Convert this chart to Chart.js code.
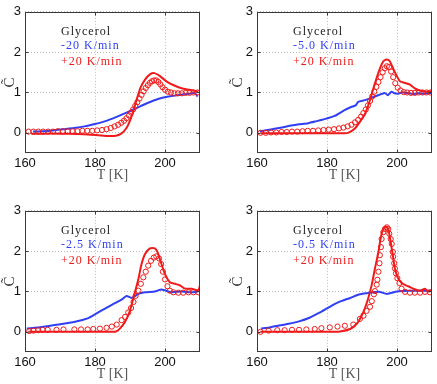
<!DOCTYPE html>
<html>
<head>
<meta charset="utf-8">
<script src="https://cdn.jsdelivr.net/npm/chart.js@4.4.0/dist/chart.umd.min.js"></script>
<style>
  html, body { margin:0; padding:0; background:#fff; width:437px; height:384px; overflow:hidden; position:relative; }
  canvas { position:absolute; }
</style>
</head>
<body>
<canvas id="p1" width="210" height="192" style="left:0;top:0"></canvas>
<canvas id="p2" width="209" height="192" style="left:228px;top:0"></canvas>
<canvas id="p3" width="210" height="192" style="left:0;top:199px"></canvas>
<canvas id="p4" width="209" height="192" style="left:228px;top:199px"></canvas>
<script>
// axis ticks
const xTicks = [160, 180, 200];
const yTicks = [0, 1, 2, 3];

// legend texts
const sampleName = 'Glycerol';
const coolLabels = ['-20 K/min', '-5.0 K/min', '-2.5 K/min', '-0.5 K/min'];
const heatLabel = '+20 K/min';

// panel 1 : cooling -20 K/min
const blue1T = [162.3,165,168,171,174,177,180,183,186,189,192,195,198,201,204,207,208.5,209.3];
const blue1C = [0.03,0.04,0.06,0.09,0.12,0.16,0.22,0.29,0.39,0.50,0.62,0.74,0.84,0.90,0.94,0.97,0.99,0.90];
const red1T = [161.8,165,170,175,178,181,184,186,187.5,189,190,191,192,193,194.3,195.7,197,198.5,200.5,202.5,205,208,209.5];
const red1C = [-0.02,-0.02,-0.02,-0.03,-0.04,-0.06,-0.08,-0.07,-0.02,0.12,0.3,0.55,0.85,1.12,1.32,1.45,1.48,1.41,1.27,1.18,1.10,1.05,1.02];
const model1T = [161,162.4,163.8,165.2,166.6,168,169.4,170.8,172.2,173.6,175,176.4,177.8,179.2,180.6,182,183.3,184.5,185.6,186.6,187.5,188.3,189,189.7,190.3,190.9,191.5,192.1,192.7,193.3,193.9,194.5,195.1,195.7,196.3,196.9,197.5,198.1,198.7,199.3,200,200.8,201.7,202.7,203.7,204.8,205.9,207,208.1,209.2];
const model1C = [0.03,0.03,0.03,0.03,0.03,0.03,0.04,0.04,0.04,0.04,0.04,0.05,0.05,0.05,0.06,0.07,0.09,0.12,0.16,0.2,0.25,0.3,0.36,0.43,0.5,0.58,0.67,0.76,0.85,0.94,1.03,1.11,1.18,1.24,1.28,1.3,1.3,1.26,1.2,1.13,1.07,1.02,1.0,0.98,0.98,0.98,0.99,0.99,1.0,1.0];

// panel 2 : cooling -5.0 K/min
const blue2T = [160.8,163,165,167.5,169.8,172,174.6,177,179.3,182.2,185,186.9,188.2,188.9,190.8,192.7,194.6,196.5,197.4,198.4,199.3,200.3,201.5,203.1,204.5,206,207.5,209.8];
const blue2C = [0.04,0.07,0.1,0.14,0.18,0.21,0.24,0.29,0.34,0.42,0.56,0.64,0.68,0.77,0.81,0.87,0.93,0.99,0.93,1.02,0.98,0.97,1.0,0.99,0.96,0.98,0.97,0.99];
const red2T = [161,165,170,175,180,184,186,187.9,189.3,190.8,192.2,193.6,194.8,196,197,197.9,199.3,200.8,202.2,203.6,205.1,206.5,208.4,209.8];
const red2C = [-0.01,-0.01,-0.01,-0.01,-0.01,-0.01,0.0,0.1,0.26,0.46,0.79,1.2,1.52,1.76,1.82,1.78,1.52,1.28,1.24,1.2,1.1,1.05,1.02,1.03];
const model2T = [161,162.5,164,165.5,167,168.5,170,171.5,173,174.5,176,177.5,179,180.5,182,183.4,184.7,185.9,187,188,188.9,189.7,190.4,191.1,191.7,192.3,192.9,193.5,194.1,194.7,195.3,195.9,196.5,197.1,197.7,198.3,198.9,199.5,200.2,201,201.9,202.9,204,205.1,206.2,207.3,208.4,209.5];
const model2C = [0.0,0.0,0.01,0.01,0.02,0.02,0.03,0.03,0.04,0.05,0.05,0.06,0.07,0.08,0.09,0.11,0.13,0.16,0.2,0.26,0.32,0.4,0.49,0.58,0.68,0.79,0.9,1.02,1.14,1.26,1.38,1.5,1.6,1.65,1.63,1.52,1.38,1.23,1.12,1.05,1.01,1.0,0.99,0.99,1.0,1.0,1.0,1.0];

// panel 3 : cooling -2.5 K/min
const blue3T = [160.5,164.8,169.5,174.3,178.1,180,181.9,184.8,187.6,189,190.5,192.4,194.3,197.1,199,201.9,204.8,207.6,209.5];
const blue3C = [0.08,0.12,0.18,0.25,0.34,0.43,0.53,0.67,0.8,0.89,0.84,0.94,0.98,1.0,1.05,0.98,1.0,0.98,1.0];
const red3T = [161,165,170,175,180,184,186,187.1,188.6,190,191.4,192.4,193.3,194.3,195.7,197.1,197.9,199,200,201.4,202.9,204.3,205.7,207.6,209.5,210];
const red3C = [0,0,0,0,0,0,0.01,0.08,0.25,0.53,0.98,1.31,1.68,1.93,2.07,2.07,1.97,1.68,1.43,1.23,1.19,1.15,1.07,1.07,1.03,1.15];
const model3T = [161.2,162.4,163.8,165.0,166.5,169.0,171.0,174.1,176.0,177.9,179.5,181.4,183.3,184.8,186.2,187.6,188.6,189.5,190.3,191.0,191.6,192.4,193.1,193.8,194.5,195.2,196.0,196.8,197.5,198.3,198.9,199.4,200.0,200.7,201.4,202.4,203.8,205.2,206.7,208.1,209.5];
const model3C = [0.02,0.03,0.04,0.05,0.05,0.05,0.06,0.06,0.06,0.06,0.07,0.08,0.1,0.13,0.18,0.29,0.37,0.48,0.59,0.74,0.89,1.02,1.19,1.35,1.49,1.64,1.76,1.84,1.87,1.82,1.68,1.49,1.30,1.13,1.02,0.98,0.97,0.97,0.98,0.98,0.98];

// panel 4 : cooling -0.5 K/min
const blue4T = [161.2,163.5,166,169,172,175,178,180,182,184,186.6,189.4,192.3,195.1,197.1,200,203,206,209.8];
const blue4C = [0.08,0.11,0.15,0.2,0.26,0.35,0.48,0.58,0.68,0.76,0.84,0.93,0.97,0.99,0.94,1.0,1.02,1.02,1.02];
const red4T = [161,165,170,175,180,183.7,186.6,188.5,189.9,190.9,191.8,192.8,193.7,194.7,195.4,196.1,196.8,197.5,198.2,198.8,199.4,200.1,200.9,201.8,203.2,204.6,206.6,208,208.8,209.9];
const red4C = [0,0,0,0,0,0.01,0.07,0.2,0.4,0.6,0.84,1.17,1.57,1.98,2.35,2.56,2.61,2.55,2.22,1.9,1.57,1.37,1.25,1.18,1.13,1.07,1.02,1.07,1.0,1.02];
const model4T = [161.0,163.3,165.8,167.9,170.0,172.0,174.1,176.5,178.4,180.8,183.0,185.1,187.5,189.4,190.4,191.3,192.3,192.8,193.4,193.7,194.2,194.4,194.7,195.0,195.1,195.4,195.6,196.1,196.6,197.1,197.5,197.8,198.2,198.5,198.8,198.9,199.2,199.4,199.7,200.1,200.7,201.3,202.3,203.7,205.1,206.6,208.0,209.4];
const model4C = [0.0,0.03,0.04,0.04,0.05,0.05,0.06,0.07,0.09,0.11,0.13,0.15,0.18,0.32,0.40,0.52,0.62,0.76,0.93,1.01,1.17,1.29,1.49,1.70,1.90,2.10,2.30,2.47,2.55,2.59,2.55,2.43,2.30,2.18,1.98,1.86,1.70,1.57,1.45,1.33,1.21,1.07,0.99,0.97,0.97,0.97,0.99,0.98];

const BLUE = '#2f3ff5';
const RED = '#f01a1a';

function pts(ts, cs){
  return ts.map((t, i) => ({x: t, y: cs[i]}));
}

// matlab style box with inward ticks
const boxPlugin = {
  id: 'box',
  afterDatasetsDraw(chart){
    const {ctx, chartArea: a, scales} = chart;
    const l = Math.round(a.left) + 0.5, r = Math.round(a.right) - 0.5;
    const t = Math.round(a.top) + 0.5, b = Math.round(a.bottom) - 0.5;
    ctx.save();
    ctx.strokeStyle = '#3a3a3a';
    ctx.lineWidth = 1;
    ctx.strokeRect(l, t, r - l, b - t);
    ctx.beginPath();
    xTicks.forEach(v => {
      const px = Math.round(scales.x.getPixelForValue(v)) + 0.5;
      ctx.moveTo(px, b); ctx.lineTo(px, b - 3);
      ctx.moveTo(px, t); ctx.lineTo(px, t + 3);
    });
    yTicks.forEach(v => {
      const py = Math.round(scales.y.getPixelForValue(v)) + 0.5;
      ctx.moveTo(l, py); ctx.lineTo(l + 3, py);
      ctx.moveTo(r, py); ctx.lineTo(r - 3, py);
    });
    ctx.stroke();
    ctx.restore();
  }
};

// text block inside each panel
const notePlugin = {
  id: 'note',
  afterDatasetsDraw(chart, args, opts){
    const {ctx, chartArea: a} = chart;
    ctx.save();
    ctx.font = '12px "Liberation Serif", serif';
    ctx.letterSpacing = '1px';
    ctx.textBaseline = 'middle';
    const x = a.left + 36;
    ctx.fillStyle = '#222';
    ctx.fillText(sampleName, x, a.top + 20);
    ctx.fillStyle = BLUE;
    ctx.fillText(opts.cool, x, a.top + 34);
    ctx.fillStyle = RED;
    ctx.fillText(heatLabel, x, a.top + 50);
    ctx.restore();
  }
};

function makePanel(id, blueT, blueC, redT, redC, modelT, modelC, cool, yWidth, rightPad){
  new Chart(document.getElementById(id), {
    type: 'line',
    data: {
      datasets: [
        { data: pts(modelT, modelC), showLine: false, pointStyle: 'circle', pointRadius: 2.6,
          pointBorderWidth: 1, pointBorderColor: RED, pointBackgroundColor: 'rgba(0,0,0,0)', order: 0 },
        { data: pts(redT, redC), borderColor: RED, borderWidth: 2, pointRadius: 0, tension: 0.2, order: 1 },
        { data: pts(blueT, blueC), borderColor: BLUE, borderWidth: 2, pointRadius: 0, tension: 0.2, order: 2 }
      ]
    },
    options: {
      responsive: false,
      animation: false,
      events: [],
      layout: { padding: { left: 0, top: 9, right: rightPad, bottom: 0 } },
      plugins: { legend: { display: false }, tooltip: { enabled: false }, note: { cool } },
      scales: {
        x: {
          type: 'linear', min: 160, max: 210,
          afterBuildTicks: s => { s.ticks = xTicks.map(v => ({value: v})); },
          afterFit: s => { s.height = 39; },
          grid: { color: '#bdbdbd', drawTicks: false },
          border: { display: false, dash: [1, 2] },
          ticks: { color: '#111', padding: 3, maxRotation: 0, font: { family: '"Liberation Sans", Arial', size: 13 } },
          title: { display: true, text: 'T [K]', color: '#555', padding: { top: 0, bottom: 8 },
                   font: { family: '"Liberation Serif", serif', size: 14 } }
        },
        y: {
          type: 'linear', min: -0.5, max: 3,
          afterBuildTicks: s => { s.ticks = yTicks.map(v => ({value: v})); },
          afterFit: s => { s.width = yWidth; },
          grid: { color: '#bdbdbd', drawTicks: false },
          border: { display: false, dash: [1, 2] },
          ticks: { color: '#111', padding: 4, font: { family: '"Liberation Sans", Arial', size: 13 } },
          title: { display: true, text: 'C\u0303', color: '#333', padding: { top: 1, bottom: 0 },
                   font: { family: '"Liberation Serif", serif', size: 15 } }
        }
      }
    },
    plugins: [boxPlugin, notePlugin]
  });
}

makePanel('p1', blue1T, blue1C, red1T, red1C, model1T, model1C, coolLabels[0], 25, 10);
makePanel('p2', blue2T, blue2C, red2T, red2C, model2T, model2C, coolLabels[1], 29, 5);
makePanel('p3', blue3T, blue3C, red3T, red3C, model3T, model3C, coolLabels[2], 25, 10);
makePanel('p4', blue4T, blue4C, red4T, red4C, model4T, model4C, coolLabels[3], 29, 5);
</script>
</body>
</html>
